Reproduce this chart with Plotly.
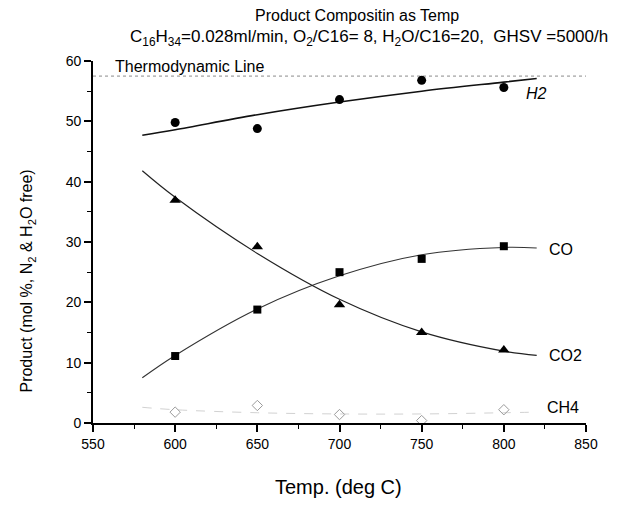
import plotly.graph_objects as go

# ---- data ----
temps = [600, 650, 700, 750, 800]
h2 = [49.8, 48.8, 53.6, 56.8, 55.6]
co = [11.1, 18.8, 25.0, 27.2, 29.3]
co2 = [36.9, 29.2, 19.6, 15.0, 12.1]
ch4 = [1.8, 2.9, 1.4, 0.4, 2.2]

fit_temps = [580, 600, 650, 700, 750, 800, 820]
h2_fit = [47.7, 48.6, 51.1, 53.2, 55.0, 56.5, 57.1]
co_fit = [7.5, 11.2, 18.9, 24.4, 27.9, 29.1, 29.0]
co2_fit = [41.8, 37.4, 28.1, 20.5, 15.1, 11.9, 11.2]
ch4_fit = [2.6, 2.2, 1.7, 1.5, 1.5, 1.7, 1.8]

thermo_x = [550, 850]
thermo_y = [57.5, 57.5]

x_ticks = [550, 600, 650, 700, 750, 800, 850]
y_ticks = [0, 10, 20, 30, 40, 50, 60]

FONT = "Arial, Liberation Sans, sans-serif"

fig = go.Figure()

# thermodynamic line
fig.add_trace(go.Scatter(x=thermo_x, y=thermo_y, mode="lines",
                         line=dict(color="#8a8a8a", width=1, dash="dot"),
                         showlegend=False, hoverinfo="skip"))

# fit curves
fig.add_trace(go.Scatter(x=fit_temps, y=ch4_fit, mode="lines", line_shape="spline",
                         line=dict(color="#d2d2d2", width=1, dash="dash"),
                         showlegend=False))
fig.add_trace(go.Scatter(x=fit_temps, y=h2_fit, mode="lines", line_shape="spline",
                         line=dict(color="#111111", width=1.6), showlegend=False))
fig.add_trace(go.Scatter(x=fit_temps, y=co_fit, mode="lines", line_shape="spline",
                         line=dict(color="#333333", width=1.1), showlegend=False))
fig.add_trace(go.Scatter(x=fit_temps, y=co2_fit, mode="lines", line_shape="spline",
                         line=dict(color="#222222", width=1.2), showlegend=False))

# data markers
fig.add_trace(go.Scatter(x=temps, y=h2, mode="markers",
                         marker=dict(symbol="circle", size=9, color="black"), showlegend=False))
fig.add_trace(go.Scatter(x=temps, y=co, mode="markers",
                         marker=dict(symbol="square", size=8, color="black"), showlegend=False))
fig.add_trace(go.Scatter(x=temps, y=co2, mode="markers",
                         marker=dict(symbol="triangle-up", size=10, color="black"), showlegend=False))
fig.add_trace(go.Scatter(x=temps, y=ch4, mode="markers",
                         marker=dict(symbol="diamond-open", size=8, color="#9a9a9a",
                                     line=dict(width=1, color="#9a9a9a")), showlegend=False))

def ann(x, y, text, size, xref="paper", yref="paper", xanchor="center", angle=0):
    return dict(x=x, y=y, xref=xref, yref=yref, text=text, showarrow=False,
                xanchor=xanchor, yanchor="middle", textangle=angle,
                font=dict(size=size, color="black", family=FONT))

annotations = [
    ann(0.535, 1.126, "Product Compositin as Temp", 16),
    ann(0.560, 1.063,
        "C<sub>16</sub>H<sub>34</sub>=0.028ml/min, O<sub>2</sub>/C16= 8, "
        "H<sub>2</sub>O/C16=20,\u00a0\u00a0GHSV =5000/h", 17),
    ann(562, 59.1, "Thermodynamic Line", 16, "x", "y", "left"),
    ann(812, 54.6, "<i>H2</i>", 16, "x", "y", "left"),
    ann(826, 28.8, "CO", 16, "x", "y", "left"),
    ann(826, 11.2, "CO2", 16, "x", "y", "left"),
    ann(825, 2.6, "CH4", 16, "x", "y", "left"),
    ann(0.497, -0.176, "Temp. (deg C)", 20),
    ann(-0.133, 0.392, "Product (mol %, N<sub>2</sub> & H<sub>2</sub>O free)", 16, angle=-90),
]

fig.update_layout(
    width=627, height=506,
    margin=dict(l=93, r=41, t=61, b=83),
    paper_bgcolor="white", plot_bgcolor="white",
    font=dict(family=FONT, size=14, color="black"),
    annotations=annotations,
    showlegend=False,
)
fig.update_xaxes(range=[550, 850], tickvals=x_ticks, ticktext=[str(v) for v in x_ticks],
                 showgrid=False, zeroline=False, showline=True, linecolor="black", linewidth=1.6,
                 ticks="outside", ticklen=7, tickwidth=1.5, tickcolor="black",
                 minor=dict(dtick=25, tick0=550, ticks="outside", ticklen=4, tickwidth=1.2,
                            tickcolor="black"),
                 tickfont=dict(size=14, family=FONT), mirror=False)
fig.update_yaxes(range=[0, 60], tickvals=y_ticks, ticktext=[str(v) for v in y_ticks],
                 showgrid=False, zeroline=False, showline=True, linecolor="black", linewidth=1.6,
                 ticks="outside", ticklen=7, tickwidth=1.5, tickcolor="black",
                 minor=dict(dtick=5, tick0=0, ticks="outside", ticklen=4, tickwidth=1.2,
                            tickcolor="black"),
                 tickfont=dict(size=14, family=FONT), mirror=False)

fig.write_html("out.html")
